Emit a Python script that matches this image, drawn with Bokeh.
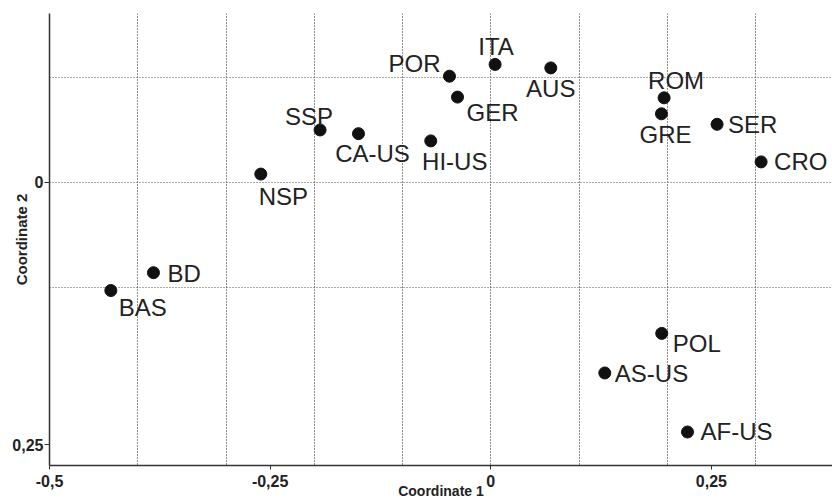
from bokeh.plotting import figure
from bokeh.models import ColumnDataSource, FixedTicker, Range1d
from bokeh.core.properties import value
from bokeh.embed import file_html
from bokeh.resources import INLINE

# ---- data ----
labels = ["NSP", "BD", "BAS", "SSP", "CA-US", "HI-US", "POR", "GER", "ITA",
          "AUS", "ROM", "GRE", "SER", "CRO", "POL", "AS-US", "AF-US"]
coord1 = [-0.2606, -0.3822, -0.4305, -0.1934, -0.1499, -0.0680, -0.0468, -0.0377, 0.0049,
          0.0680, 0.1964, 0.1934, 0.2564, 0.3063, 0.1937, 0.1292, 0.2229]
coord2 = [-0.0076, 0.0863, 0.1033, -0.0496, -0.0461, -0.0392, -0.1008, -0.0809, -0.1120,
          -0.1087, -0.0802, -0.0650, -0.0550, -0.0192, 0.1441, 0.1818, 0.2380]

x_ticks = [-0.5, -0.25, 0.0, 0.25]
x_tick_labels = ["-0,5", "-0,25", "0", "0,25"]
y_ticks = [0.0, 0.25]
y_tick_labels = ["0", "0,25"]
x_grid_lines = [-0.4, -0.3, -0.2, -0.1, 0.0, 0.1, 0.2, 0.3]
y_grid_lines = [-0.1, 0.0, 0.1]

# ---- label placement (style) ----
label_align = ["left", "left", "left", "center", "center", "center", "right", "left", "center",
               "center", "center", "center", "left", "left", "left", "left", "left"]
label_dx = [-2, 14, 8, -11, 14, 24, -9, 9, 1, 0, 12, 4, 11, 13, 11, 10, 13]
label_dy = [22, 1, 17, -13, 20, 21, -13, 15, -18, 21, -17, 21, 0, 0, 10, 1, 0]

src = ColumnDataSource(dict(x=coord1, y=coord2, name=labels, align=label_align,
                            dx=label_dx, dy=label_dy))

p = figure(width=832, height=501,
           x_range=Range1d(-0.5, 0.3872), y_range=Range1d(0.2699, -0.1605),
           output_backend="svg", toolbar_location=None,
           min_border_left=49, min_border_right=0, min_border_top=13, min_border_bottom=34)
p.outline_line_color = None
p.background_fill_color = "white"
p.border_fill_color = "white"

# grid
p.xgrid.ticker = FixedTicker(ticks=x_grid_lines)
p.ygrid.ticker = FixedTicker(ticks=y_grid_lines)
p.xgrid.grid_line_color = "#1a1a1a"
p.xgrid.grid_line_dash = "1 2"
p.xgrid.grid_line_width = 1
p.ygrid.grid_line_color = "#555555"
p.ygrid.grid_line_dash = "1 2"
p.ygrid.grid_line_width = 1

# axes
p.xaxis.ticker = FixedTicker(ticks=x_ticks)
p.yaxis.ticker = FixedTicker(ticks=y_ticks)
p.xaxis.major_label_overrides = {float(t): l for t, l in zip(x_ticks, x_tick_labels)}
p.yaxis.major_label_overrides = {float(t): l for t, l in zip(y_ticks, y_tick_labels)}
for ax in (p.xaxis, p.yaxis):
    ax.axis_line_color = "#333333"
    ax.axis_line_width = 1.5
    ax.major_tick_line_color = "#333333"
    ax.major_tick_line_width = 1
    ax.major_tick_in = 0
    ax.minor_tick_line_color = None
    ax.major_label_text_font = "Liberation Sans"
    ax.major_label_text_font_style = "bold"
    ax.major_label_text_font_size = "16px"
    ax.major_label_text_color = "#222222"
    ax.axis_label_text_font = "Liberation Sans"
    ax.axis_label_text_font_style = "bold"
    ax.axis_label_text_color = "#222222"
p.xaxis.major_tick_out = 4
p.yaxis.major_tick_out = 5
p.xaxis.major_label_standoff = 5
p.yaxis.major_label_standoff = 1
p.xaxis.axis_label = "Coordinate 1"
p.xaxis.axis_label_text_font_size = "14px"
p.xaxis.axis_label_standoff = -7
p.yaxis.axis_label = "Coordinate 2"
p.yaxis.axis_label_text_font_size = "15px"
p.yaxis.axis_label_standoff = -21

# points and labels
p.scatter("x", "y", source=src, size=12, fill_color="#111111", line_color="#111111")
p.text(x="x", y="y", text="name", source=src, x_offset="dx", y_offset="dy",
       text_align="align", text_baseline="middle",
       text_font=value("Liberation Sans"), text_font_size="24px", text_color="#222222")

open("out.html", "w").write(file_html(p, INLINE))
